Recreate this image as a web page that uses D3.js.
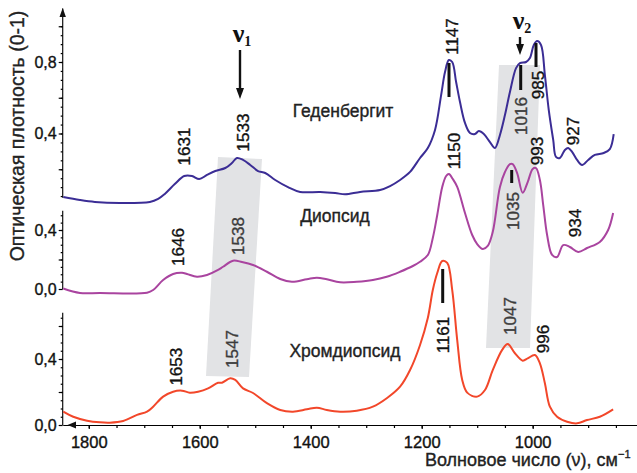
<!DOCTYPE html>
<html>
<head>
<meta charset="utf-8">
<script src="https://cdn.jsdelivr.net/npm/d3@7"></script>
<style>
  body { margin: 0; background: #fff; }
  svg { display: block; font-family: "Liberation Sans", Arial, sans-serif; }
  .heavy { stroke-width: 0.35px; paint-order: stroke; }
</style>
</head>
<body>
<div id="chart"></div>
<script>
// --- data: wavenumber (cm-1) and absorbance ---
var hedWn  = [1846,1816,1789,1744,1690,1675,1663,1645,1628,1614,1601,1587,1572,1554,1542,1533,1522,1509,1495,1482,1464,1441,1419,1383,1356,1338,1311,1275,1257,1239,1221,1203,1189,1176,1165,1158,1151,1145,1138,1131,1122,1113,1104,1097,1088,1077,1068,1059,1050,1041,1030,1023,1012,1005,998,992,985,978,971,963,958,951,942,936,929,920,911,900,888,872,861,854];
var hedAbs = [0.045,0.028,0.017,0.011,0.017,0.034,0.062,0.117,0.162,0.162,0.145,0.168,0.19,0.207,0.235,0.263,0.252,0.224,0.19,0.179,0.14,0.1,0.073,0.073,0.067,0.06,0.073,0.084,0.106,0.14,0.185,0.263,0.319,0.42,0.615,0.744,0.811,0.8,0.688,0.576,0.459,0.403,0.397,0.414,0.397,0.352,0.319,0.392,0.503,0.632,0.766,0.794,0.8,0.822,0.895,0.917,0.895,0.727,0.531,0.364,0.269,0.263,0.308,0.319,0.297,0.252,0.224,0.252,0.28,0.291,0.313,0.397];

var diopWn  = [1846,1816,1780,1695,1684,1666,1648,1632,1623,1605,1587,1567,1558,1540,1524,1504,1479,1455,1434,1407,1389,1371,1347,1317,1288,1263,1239,1216,1203,1189,1180,1172,1163,1156,1151,1144,1136,1122,1109,1100,1090,1081,1072,1059,1050,1041,1036,1028,1018,1009,1000,994,987,981,974,965,956,945,933,918,902,879,864,855];
var diopAbs = [0.003,-0.027,-0.027,-0.025,-0.007,0.061,0.102,0.11,0.102,0.083,0.095,0.129,0.151,0.192,0.183,0.163,0.117,0.068,0.049,0.066,0.077,0.066,0.045,0.049,0.061,0.083,0.117,0.156,0.185,0.23,0.346,0.502,0.692,0.766,0.78,0.746,0.692,0.515,0.366,0.305,0.271,0.292,0.386,0.692,0.793,0.847,0.847,0.786,0.653,0.725,0.814,0.82,0.739,0.569,0.366,0.231,0.217,0.298,0.285,0.251,0.278,0.319,0.4,0.515];

var chromWn  = [1846,1828,1803,1780,1762,1738,1713,1695,1684,1666,1648,1632,1618,1603,1585,1567,1560,1545,1536,1522,1504,1479,1455,1432,1407,1389,1371,1347,1317,1288,1263,1239,1221,1203,1189,1180,1172,1163,1154,1145,1136,1127,1118,1100,1086,1072,1055,1045,1032,1018,1009,996,987,978,969,956,938,920,902,879,855];
var chromAbs = [0.081,0.05,0.026,0.016,0.014,0.024,0.061,0.081,0.111,0.172,0.202,0.208,0.196,0.202,0.222,0.256,0.256,0.283,0.273,0.222,0.194,0.132,0.091,0.081,0.095,0.105,0.091,0.081,0.087,0.111,0.162,0.232,0.333,0.485,0.648,0.818,0.921,0.994,0.982,0.818,0.515,0.273,0.196,0.172,0.212,0.333,0.455,0.491,0.435,0.39,0.404,0.424,0.374,0.253,0.111,0.05,0.02,0.01,0.03,0.05,0.095];

var xTickLabels = [1800, 1600, 1400, 1200, 1000];
var sampleNames = ["Геденбергит", "Диопсид", "Хромдиопсид"];
var peakLabels = [
  ["1631", "1533", "1147", "1016", "985", "927"],
  ["1646", "1538", "1150", "1035", "993", "934"],
  ["1653", "1547", "1161", "1047", "996"]
];

var width = 637, height = 473;

var svg = d3.select("#chart")
  .append("svg")
  .attr("width", width)
  .attr("height", height);

// x is reversed: high wavenumbers on the left
var x = d3.scaleLinear()
  .domain([1847, 812])
  .range([62.7, 637]);

// one y scale per stacked spectrum
var panels = [
  { wn: hedWn,   abs: hedAbs,   color: "#3b2d95", y: d3.scaleLinear().domain([0, 1]).range([205, 26.25]),
    axisTop: 1.1, labelTicks: [0.4, 0.8], midTicks: [0.2, 0.6, 1.0], axisBottom: 0.04, smallMax: 1.0 },
  { wn: diopWn,  abs: diopAbs,  color: "#a9449f", y: d3.scaleLinear().domain([0, 1]).range([289, 141.5]),
    axisTop: 0.53, labelTicks: [0.0, 0.4], midTicks: [0.2], axisBottom: 0, smallMax: 0.5 },
  { wn: chromWn, abs: chromAbs, color: "#f2472a", y: d3.scaleLinear().domain([0, 1]).range([425, 260]),
    axisTop: 0.68, labelTicks: [0.0, 0.4], midTicks: [0.2, 0.6], axisBottom: 0, smallMax: 0.65 }
];

// grey bands behind the nu1 / nu2 groups
var bands = [
  [[218,157],[262,159],[249,377],[206,376]],
  [[499,65],[540,65],[530,348],[486,348]]
];
svg.selectAll(".band")
  .data(bands)
  .enter().append("polygon")
  .attr("class", "band")
  .attr("points", function(d){ return d.map(function(p){ return p.join(","); }).join(" "); })
  .attr("fill", "#e2e3e5");

// y axes
var fmt = function(d){ return d3.format(".1f")(d).replace(".", ","); };
panels.forEach(function(p) {
  var g = svg.append("g").attr("transform", "translate(62.7,0)");
  g.append("line")
    .attr("y1", p.y(p.axisBottom)).attr("y2", p.y(p.axisTop))
    .attr("stroke", "#111").attr("stroke-width", 1.2);
  var small = d3.range(0.05, p.smallMax + 0.001, 0.05);
  g.append("g").call(d3.axisLeft(p.y).tickValues(small).tickSize(2).tickFormat(""))
    .call(function(s){ s.select(".domain").remove(); s.selectAll("line").attr("stroke-width", 1.2); });
  g.append("g").call(d3.axisLeft(p.y).tickValues(p.midTicks).tickSize(4).tickFormat(""))
    .call(function(s){ s.select(".domain").remove(); s.selectAll("line").attr("stroke-width", 1.2); });
  g.append("g").call(d3.axisLeft(p.y).tickValues(p.labelTicks).tickSize(4).tickPadding(2).tickFormat(fmt))
    .call(function(s){
      s.select(".domain").remove();
      s.selectAll("line").attr("stroke-width", 1.2);
      s.selectAll("text").attr("font-size", 16).attr("fill", "#111").attr("stroke", "#111")
        .attr("class", "heavy").attr("font-family", null);
    });
});
// arrow on top y axis
svg.append("path").attr("d", "M62.7,8 L59.5,17 L65.9,17 Z").attr("fill", "#111");

// x axis
var xg = svg.append("g").attr("transform", "translate(0,425)");
xg.call(d3.axisBottom(x).tickValues(d3.range(1800, 849, -50)).tickSize(3).tickSizeOuter(0).tickFormat(""))
  .call(function(s){ s.select(".domain").attr("stroke-width", 1.2); s.selectAll("line").attr("stroke-width", 1.2); });
xg.append("g").call(d3.axisBottom(x).tickValues(xTickLabels).tickSize(4).tickPadding(7).tickFormat(d3.format("d")))
  .call(function(s){
    s.select(".domain").remove();
    s.selectAll("line").attr("stroke-width", 1.2);
    s.selectAll("text").attr("font-size", 16.5).attr("fill", "#111").attr("stroke", "#111")
      .attr("class", "heavy").attr("font-family", null);
  });
svg.append("path").attr("d", "M67.5,425 L76,421.5 L76,428.5 Z").attr("fill", "#111");

// spectra
panels.forEach(function(p) {
  var line = d3.line()
    .x(function(d, i){ return x(p.wn[i]); })
    .y(function(d){ return p.y(d); })
    .curve(d3.curveCatmullRom.alpha(0.5));
  svg.append("path")
    .datum(p.abs)
    .attr("d", line)
    .attr("fill", "none")
    .attr("stroke", p.color)
    .attr("stroke-width", 2);
});

// black marker bars at selected peaks
var bars = [[449,63,97],[520.7,65,90],[536,43,67],[511.7,170,183],[442.7,269,303]];
svg.selectAll(".bar")
  .data(bars)
  .enter().append("line")
  .attr("x1", function(d){ return d[0]; }).attr("x2", function(d){ return d[0]; })
  .attr("y1", function(d){ return d[1]; }).attr("y2", function(d){ return d[2]; })
  .attr("stroke", "#111").attr("stroke-width", 3);

// rotated peak labels: [panel, index, cx, cy, grey]
var peakPos = [
  [0,0,184,146.5,0],[0,1,243,132.5,0],[0,2,452,36.5,0],[0,3,520.5,116,1],[0,4,537.5,85,0],[0,5,572.5,131,0],
  [1,0,177.5,247,0],[1,1,238,236,1],[1,2,454,151,0],[1,3,513,211,1],[1,4,537,151,0],[1,5,575,223,0],
  [2,0,175.5,366.7,0],[2,1,231.7,349,1],[2,2,442.5,335,0],[2,3,510,316,1],[2,4,543,339,0]
];
svg.selectAll(".peak")
  .data(peakPos)
  .enter().append("text")
  .attr("class", "peak heavy")
  .attr("transform", function(d){ return "translate(" + (d[2] + 6.3) + "," + d[3] + ") rotate(-90)"; })
  .attr("text-anchor", "middle")
  .attr("font-size", 17)
  .attr("fill", function(d){ return d[4] ? "#3c3c3c" : "#111"; })
  .attr("stroke", function(d){ return d[4] ? "#3c3c3c" : "#111"; })
  .text(function(d){ return peakLabels[d[0]][d[1]]; });

// sample names
var namePos = [[343,117],[335,222],[345,357]];
svg.selectAll(".name")
  .data(sampleNames)
  .enter().append("text")
  .attr("class", "heavy")
  .attr("x", function(d, i){ return namePos[i][0]; })
  .attr("y", function(d, i){ return namePos[i][1]; })
  .attr("text-anchor", "middle")
  .attr("font-size", 17.5)
  .attr("fill", "#222").attr("stroke", "#222")
  .text(function(d){ return d; });

// nu1 / nu2 arrows
var arrows = [[240,50,99,"1"],[520,37,55,"2"]];
arrows.forEach(function(a) {
  svg.append("line").attr("x1", a[0]).attr("x2", a[0]).attr("y1", a[1]).attr("y2", a[2] - 8)
    .attr("stroke", "#111").attr("stroke-width", 2.4);
  svg.append("path")
    .attr("d", "M" + a[0] + "," + a[2] + " L" + (a[0] - 4) + "," + (a[2] - 11) + " L" + (a[0] + 4) + "," + (a[2] - 11) + " Z")
    .attr("fill", "#111");
  var t = svg.append("text")
    .attr("x", a[0] + 2).attr("y", a[1] - 8)
    .attr("font-family", "'Liberation Serif', 'Times New Roman', serif")
    .attr("font-weight", "bold")
    .attr("font-size", 26)
    .attr("text-anchor", "middle")
    .attr("fill", "#111");
  t.append("tspan").text("ν");
  t.append("tspan").attr("font-size", 14).attr("dy", 4).text(a[3]);
});

// axis titles
svg.append("text")
  .attr("class", "heavy")
  .attr("transform", "translate(24,136) rotate(-90)")
  .attr("text-anchor", "middle")
  .attr("font-size", 19.5)
  .attr("fill", "#222").attr("stroke", "#222")
  .text("Оптическая плотность (0-1)");

var xt = svg.append("text")
  .attr("class", "heavy")
  .attr("x", 425).attr("y", 466)
  .attr("font-size", 18)
  .attr("fill", "#222").attr("stroke", "#222");
xt.append("tspan").text("Волновое число (ν), см");
xt.append("tspan").attr("font-size", 11).attr("dy", -8).text("−1");
</script>
</body>
</html>
